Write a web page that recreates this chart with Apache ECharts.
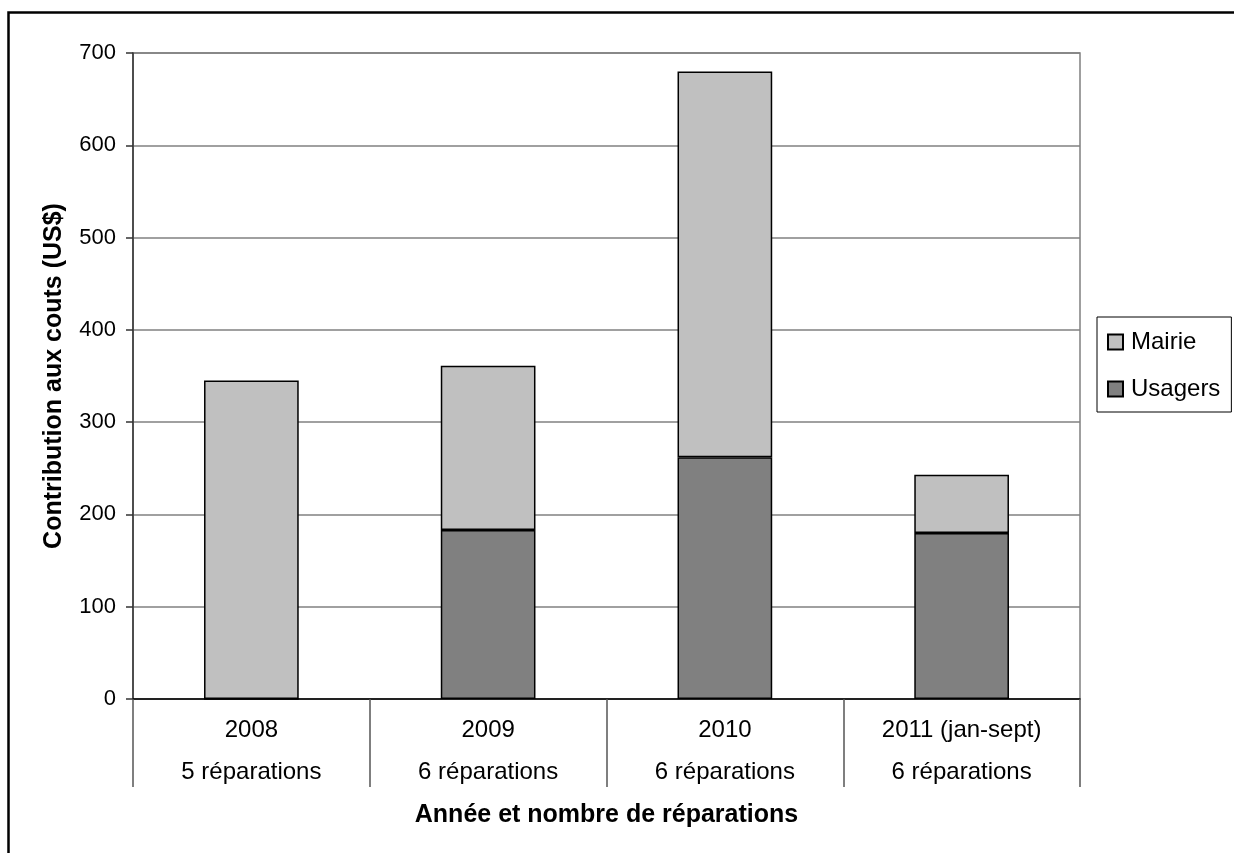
<!DOCTYPE html>
<html>
<head>
<meta charset="utf-8">
<script src="https://cdn.jsdelivr.net/npm/echarts@6/dist/echarts.min.js"></script>
<style>
html,body{margin:0;padding:0;background:#fff;}
#chart{width:1234px;height:853px;}
</style>
</head>
<body>
<div id="chart"></div>
<script>
const years = ['2008', '2009', '2010', '2011 (jan-sept)'];
const repairs = ['5 réparations', '6 réparations', '6 réparations', '6 réparations'];
const usagers = [0, 183, 262, 180];
const mairie = [345, 178, 418, 63];
const yTicks = [0, 100, 200, 300, 400, 500, 600, 700];

const categories = years.map((y, i) => y + '\n' + repairs[i]);
const font = 'Liberation Sans, Arial, sans-serif';

const chart = echarts.init(document.getElementById('chart'), null, {renderer: 'canvas'});
chart.setOption({
  animation: false,
  backgroundColor: '#fff',
  textStyle: {fontFamily: font, color: '#000'},
  graphic: [{
    type: 'rect',
    shape: {x: 8.5, y: 12.5, width: 1400, height: 1000},
    style: {fill: 'none', stroke: '#000', lineWidth: 2.5},
    z: 100
  }],
  grid: {
    left: 133, top: 53, right: 154, bottom: 154,
    show: true, borderColor: '#808080', borderWidth: 1.5, backgroundColor: 'transparent'
  },
  legend: {
    data: ['Mairie', 'Usagers'],
    orient: 'vertical',
    left: 1097, top: 317,
    padding: [13, 11, 11, 10],
    itemGap: 23,
    itemWidth: 15, itemHeight: 15,
    icon: 'rect',
    backgroundColor: '#fff',
    borderColor: '#000', borderWidth: 1,
    textStyle: {fontFamily: font, fontSize: 24, lineHeight: 24, color: '#000', padding: [0, 0, 0, 3]}
  },
  xAxis: {
    type: 'category',
    data: categories,
    name: 'Année et nombre de réparations',
    nameLocation: 'middle',
    nameGap: 104,
    nameTextStyle: {fontFamily: font, fontSize: 25, fontWeight: 'bold', color: '#000'},
    axisLine: {show: true, lineStyle: {color: '#000', width: 1.5}},
    axisTick: {show: true, length: 88, lineStyle: {color: '#555', width: 1.5}},
    axisLabel: {
      margin: 10, fontFamily: font, fontSize: 24, color: '#000', lineHeight: 42
    },
    splitLine: {show: false}
  },
  yAxis: {
    type: 'value',
    min: 0, max: 700, interval: 100,
    name: 'Contribution aux couts (US$)',
    nameLocation: 'middle',
    nameGap: 66,
    nameTextStyle: {fontFamily: font, fontSize: 25, fontWeight: 'bold', color: '#000'},
    axisLine: {show: true, lineStyle: {color: '#333', width: 1.5}},
    axisTick: {show: true, length: 7, lineStyle: {color: '#333', width: 1.5}},
    axisLabel: {
      margin: 17, fontFamily: font, fontSize: 22, color: '#000',
      formatter: v => yTicks.includes(v) ? String(v) : ''
    },
    splitLine: {show: true, lineStyle: {color: '#808080', width: 1.5}}
  },
  series: [
    {
      name: 'Usagers', type: 'bar', stack: 'total', data: usagers, barWidth: '40%',
      itemStyle: {color: '#808080', borderColor: '#000', borderWidth: 1.5}
    },
    {
      name: 'Mairie', type: 'bar', stack: 'total', data: mairie, barWidth: '40%',
      itemStyle: {color: '#c0c0c0', borderColor: '#000', borderWidth: 1.5}
    }
  ]
});
</script>
</body>
</html>
